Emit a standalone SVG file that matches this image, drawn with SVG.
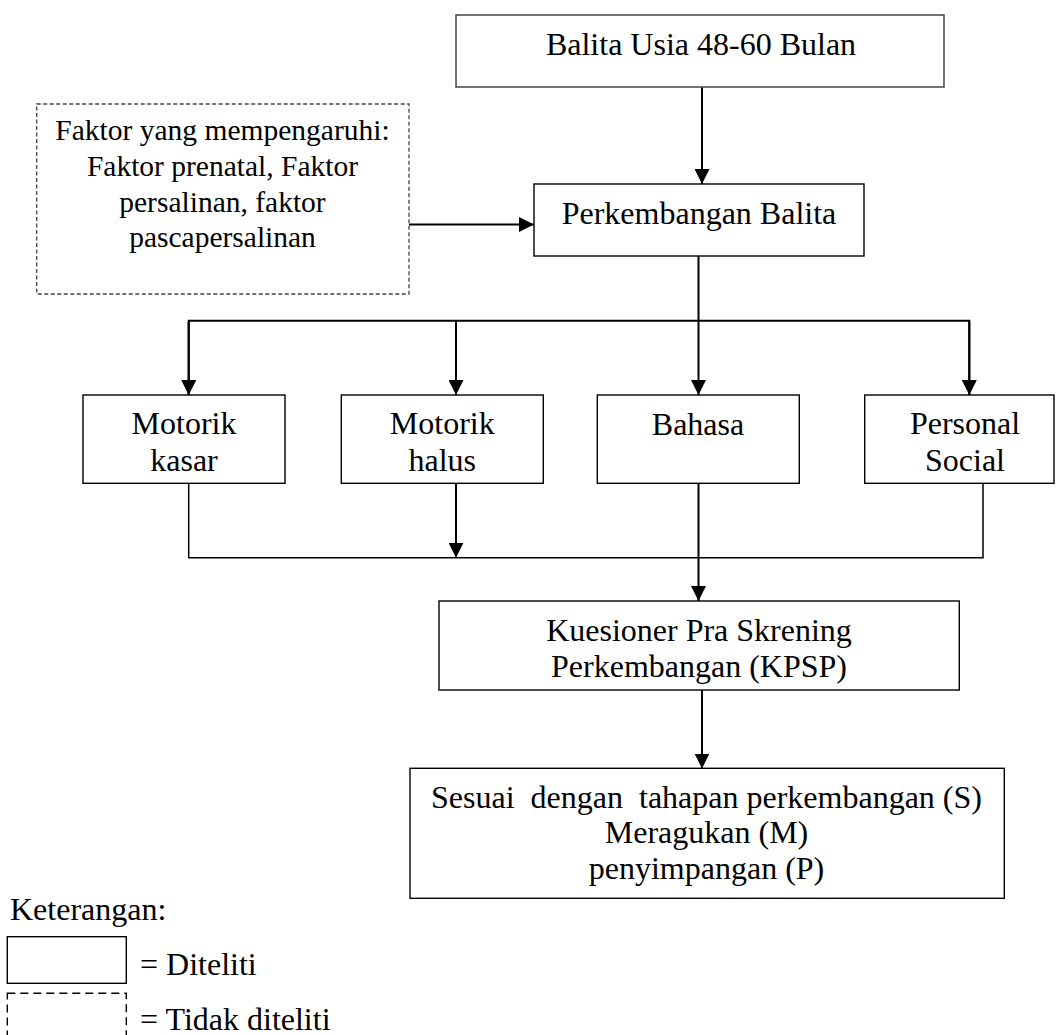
<svg xmlns="http://www.w3.org/2000/svg" width="1057" height="1035" viewBox="0 0 1057 1035">
<style>
text{font-family:"Liberation Serif","Times New Roman",serif;font-size:32px;fill:#000;text-anchor:middle}
.box{fill:#fff;stroke:#000;stroke-width:1.4}
.dash{fill:#fff;stroke:#444;stroke-width:1.3;stroke-dasharray:4 2.5}
.ldash{fill:none;stroke:#000;stroke-width:1.4;stroke-dasharray:8 5}
.c{fill:none;stroke:#000;stroke-width:2}
.c2{fill:none;stroke:#000;stroke-width:1.5}
.l{text-anchor:start}
.f{font-size:29.5px}
</style>
<defs>
<marker id="ah" markerUnits="userSpaceOnUse" markerWidth="15" markerHeight="15" refX="15" refY="7.5" orient="auto">
<path d="M0,0 L15,7.5 L0,15 z" fill="#000"/>
</marker>
</defs>
<g id="connectors">
<line class="c" x1="702" y1="87" x2="702" y2="184" marker-end="url(#ah)"/>
<line class="c" x1="409" y1="224.5" x2="534" y2="224.5" marker-end="url(#ah)"/>
<line class="c" x1="698.5" y1="256" x2="698.5" y2="395" marker-end="url(#ah)"/>
<polyline class="c" points="188.7,395 188.7,320.7 969.3,320.7 969.3,395"/>
<line class="c" x1="188.7" y1="322" x2="188.7" y2="395" marker-end="url(#ah)"/>
<line class="c" x1="456" y1="320.7" x2="456" y2="395" marker-end="url(#ah)"/>
<line class="c" x1="969.3" y1="322" x2="969.3" y2="395" marker-end="url(#ah)"/>
<polyline class="c2" points="188.7,483.3 188.7,557.7 983,557.7 983,483.3"/>
<line class="c" x1="456" y1="483.3" x2="456" y2="557.7" marker-end="url(#ah)"/>
<line class="c" x1="698.5" y1="483.3" x2="698.5" y2="601" marker-end="url(#ah)"/>
<line class="c" x1="702" y1="690" x2="702" y2="768.5" marker-end="url(#ah)"/>
</g>
<g id="balita">
<rect x="456" y="15" width="488" height="72" fill="#fff" stroke="#444" stroke-width="1.5"/>
<text x="701" y="55">Balita Usia 48-60 Bulan</text>
</g>
<g id="faktor">
<rect class="dash" x="36.7" y="104" width="372.3" height="190"/>
<text class="f" x="222.5" y="140">Faktor yang mempengaruhi:</text>
<text class="f" x="222.5" y="176">Faktor prenatal, Faktor</text>
<text class="f" x="222.5" y="212">persalinan, faktor</text>
<text class="f" x="222.5" y="247">pascapersalinan</text>
</g>
<g id="perkembangan">
<rect class="box" x="534" y="184" width="330" height="72"/>
<text x="699" y="224">Perkembangan Balita</text>
</g>
<g id="motorik-kasar">
<rect class="box" x="83" y="395" width="202" height="88.3"/>
<text x="184" y="434.3">Motorik</text>
<text x="184" y="471">kasar</text>
</g>
<g id="motorik-halus">
<rect class="box" x="341.3" y="395" width="202" height="88.3"/>
<text x="442.3" y="434.3">Motorik</text>
<text x="442.3" y="471">halus</text>
</g>
<g id="bahasa">
<rect class="box" x="597.3" y="395" width="202" height="88.3"/>
<text x="698" y="435">Bahasa</text>
</g>
<g id="personal-social">
<rect class="box" x="864.7" y="395" width="189.3" height="88.3"/>
<text x="965" y="434.3">Personal</text>
<text x="965" y="471">Social</text>
</g>
<g id="kpsp">
<rect class="box" x="439" y="601" width="520.3" height="89"/>
<text x="699" y="641">Kuesioner Pra Skrening</text>
<text x="699" y="676.7">Perkembangan (KPSP)</text>
</g>
<g id="hasil">
<rect class="box" x="410" y="768.3" width="594.3" height="130"/>
<text x="706.5" y="807.7" xml:space="preserve">Sesuai  dengan  tahapan perkembangan (S)</text>
<text x="706.5" y="843.3">Meragukan (M)</text>
<text x="706.5" y="879">penyimpangan (P)</text>
</g>
<g id="legend">
<text class="l" x="10" y="920">Keterangan:</text>
<rect class="box" x="7.3" y="936.7" width="119" height="46.6"/>
<text class="l" x="140" y="975">= Diteliti</text>
<rect class="ldash" x="7.3" y="993.3" width="119" height="46.6"/>
<text class="l" x="140" y="1030">= Tidak diteliti</text>
</g>
</svg>
